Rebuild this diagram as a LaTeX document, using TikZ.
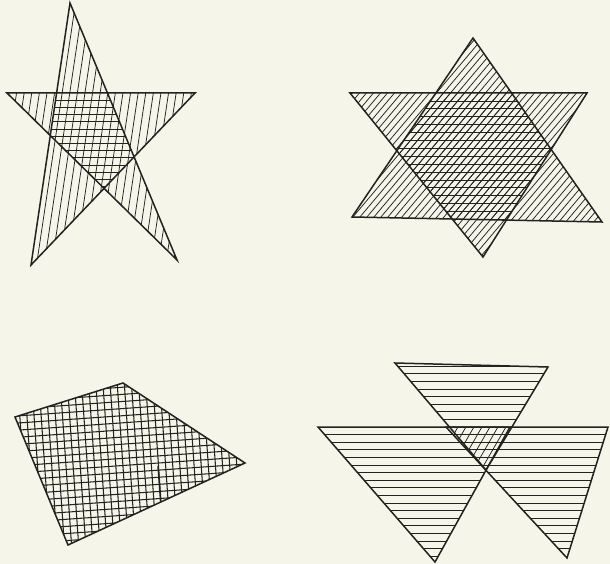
\documentclass[tikz,border=0pt]{standalone}
\usetikzlibrary{calc}
\definecolor{paper}{RGB}{246,245,234}
\definecolor{ink}{RGB}{34,34,30}
\begin{document}
\begin{tikzpicture}[x=1pt,y=-1pt,
  outline/.style={line width=1.5pt, draw=ink, line join=miter},
  hatch/.style={line width=0.75pt, draw=ink},
  gridline/.style={line width=1.05pt, draw=ink}]
\fill[paper] (0,0) rectangle (610,564);
\useasboundingbox (0,0) rectangle (610,564);

% ---------- Figure 1: pentagram ----------
\coordinate (sT) at (70,3);
\coordinate (sL) at (7,93);
\coordinate (sR) at (195,93);
\coordinate (sBL) at (31,265);
\coordinate (sBR) at (177,260);
\coordinate (p1) at (intersection of sT--sBL and sL--sR);
\coordinate (p2) at (intersection of sT--sBR and sL--sR);
\coordinate (p3) at (intersection of sT--sBR and sR--sBL);
\coordinate (p4) at (intersection of sL--sBR and sR--sBL);
\coordinate (p5) at (intersection of sL--sBR and sT--sBL);
\begin{scope}
  \clip (sT)--(sBL)--(sR)--(sL)--(sBR)--cycle;
  \foreach \k in {-2,...,34}
    \draw[hatch] ({\k*7.6},0) -- ({\k*7.6-0.149*270},270);
\end{scope}
\begin{scope}
  \clip (p1)--(p2)--(p3)--(p4)--(p5)--cycle;
  \foreach \k in {1,...,14}
    \draw[hatch] (0,{93+\k*7.2}) -- (210,{93+\k*7.2});
\end{scope}
\draw[outline] (sT)--(sBL)--(sR)--(sL)--(sBR)--cycle;

% ---------- Figure 2: hexagram ----------
\coordinate (hA) at (473,38);
\coordinate (hB) at (352,217);
\coordinate (hC) at (602,222);
\coordinate (hD) at (350,93);
\coordinate (hE) at (587,93);
\coordinate (hF) at (483,257);
\foreach \tri in {{(hA)--(hB)--(hC)--cycle},{(hD)--(hE)--(hF)--cycle}}{
  \begin{scope}
    \clip \tri;
    \foreach \k in {0,...,70}
      \draw[hatch] ({140+\k*7},262) -- ({140+\k*7+204},20);
  \end{scope}
}
\begin{scope}
  \clip (hA)--(hB)--(hC)--cycle;
  \clip (hD)--(hE)--(hF)--cycle;
  \foreach \k in {1,...,16}
    \draw[hatch] (340,{93+\k*7.9}) -- (610,{93+\k*7.9});
\end{scope}
\draw[outline] (hA)--(hB)--(hC)--cycle;
\draw[outline] (hD)--(hE)--(hF)--cycle;

% ---------- Figure 3: quadrilateral with grid ----------
\coordinate (q1) at (15,417);
\coordinate (q2) at (123,383);
\coordinate (q3) at (245,463);
\coordinate (q4) at (68,545);
\coordinate (qm1) at (158,466);
\coordinate (qm2) at (163,535);
\begin{scope}
  \clip (q1)--(q2)--(q3)--(q4)--cycle;
  \begin{scope}[rotate around={4:(130,465)}]
    \foreach \k in {-24,...,24}{
      \draw[gridline] ({130+\k*7.1},350) -- ({130+\k*7.1},580);
      \draw[gridline] (-20,{465+\k*7.1}) -- (280,{465+\k*7.1});
    }
  \end{scope}
  \draw[line width=1.4pt, draw=ink] (qm1) -- (qm2);
\end{scope}
\draw[outline] (q1)--(q2)--(q3)--(q4)--cycle;

% ---------- Figure 4: three triangles ----------
\coordinate (tU1) at (395,363);
\coordinate (tU2) at (548,367);
\coordinate (tP) at (486,470);
\coordinate (tL1) at (318,427);
\coordinate (tL2) at (510,427);
\coordinate (tLA) at (435,562);
\coordinate (tR1) at (446,427);
\coordinate (tR2) at (608,427);
\coordinate (tRA) at (567,558);
\foreach \tri in {{(tU1)--(tU2)--(tP)--cycle},{(tL1)--(tL2)--(tLA)--cycle},{(tR1)--(tR2)--(tRA)--cycle}}{
  \begin{scope}
    \clip \tri;
    \foreach \k in {-8,...,19}
      \draw[hatch] (300,{427+\k*7.6}) -- (612,{427+\k*7.6});
  \end{scope}
}
\begin{scope}
  \clip (tU1)--(tU2)--(tP)--cycle;
  \clip (300,427) rectangle (612,480);
  \foreach \k in {0,...,14}
    \draw[hatch] ({430+\k*8},420) -- ({430+\k*8-0.58*62},482);
\end{scope}
\draw[outline] (tU1)--(tU2)--(tP)--cycle;
\draw[outline] (tL1)--(tL2)--(tLA)--cycle;
\draw[outline] (tR1)--(tR2)--(tRA)--cycle;
\end{tikzpicture}
\end{document}
